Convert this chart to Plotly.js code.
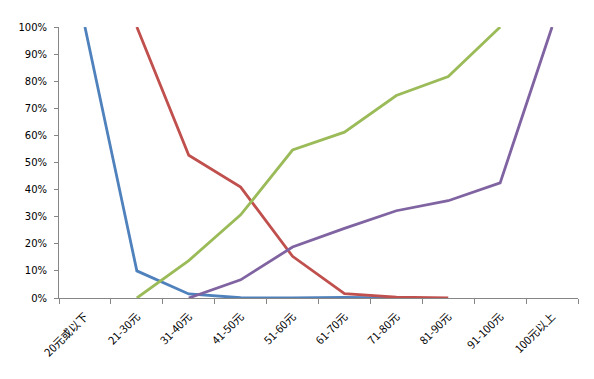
<!DOCTYPE html>
<html>
<head>
<meta charset="utf-8">
<script src="https://cdn.plot.ly/plotly-3.0.1.min.js"></script>
<style>html,body{margin:0;padding:0;background:#fff;}#chart{width:594px;height:379px;}</style>
</head>
<body>
<div id="chart"></div>
<script>
var categories = ["20元或以下","21-30元","31-40元","41-50元","51-60元","61-70元","71-80元","81-90元","91-100元","100元以上"];
var seriesBlue   = [100, 10, 1.5, 0.1, 0, 0.2, 0, null, null, null];
var seriesRed    = [null, 100, 52.7, 40.9, 15.4, 1.6, 0.3, 0, null, null];
var seriesGreen  = [null, 0, 13.8, 30.7, 54.6, 61.2, 74.7, 81.7, 100, null];
var seriesPurple = [null, null, 0, 6.7, 18.8, 25.7, 32.2, 35.9, 42.5, 100];
var yTicks = [0,10,20,30,40,50,60,70,80,90,100];

function line(y, color) {
  return {x: categories, y: y, type: 'scatter', mode: 'lines',
          line: {color: color, width: 2.8}, connectgaps: false, hoverinfo: 'none'};
}
var data = [
  line(seriesBlue, '#4F81BD'),
  line(seriesRed, '#C0504D'),
  line(seriesGreen, '#9BBB59'),
  line(seriesPurple, '#8064A2')
];
var font = {family: '"DejaVu Sans", "Noto Sans CJK SC", sans-serif', size: 10, color: '#000'};
var xfont = {family: '"Noto Sans CJK SC", "DejaVu Sans", sans-serif', size: 11, color: '#000'};
var layout = {
  width: 594, height: 379,
  margin: {l: 59, r: 16, t: 26.5, b: 80.5, pad: 0},
  paper_bgcolor: '#fff', plot_bgcolor: '#fff',
  showlegend: false,
  font: font,
  xaxis: {
    type: 'category', range: [-0.5, 9.5],
    showgrid: false, zeroline: false,
    showline: true, linecolor: '#868686', linewidth: 1,
    ticks: 'outside', tickson: 'boundaries', ticklen: 5, tickcolor: '#868686',
    tickangle: -45, tickfont: xfont, ticklabelstandoff: 7, automargin: false
  },
  yaxis: {
    range: [0, 100], tickvals: yTicks, ticktext: yTicks.map(function(v){return v + '%';}),
    showgrid: false, zeroline: false,
    showline: true, linecolor: '#868686', linewidth: 1,
    ticks: 'outside', ticklen: 4, tickcolor: '#868686',
    tickfont: font, ticklabelstandoff: 5, automargin: false
  }
};
Plotly.newPlot('chart', data, layout, {staticPlot: true, displayModeBar: false});
</script>
</body>
</html>
